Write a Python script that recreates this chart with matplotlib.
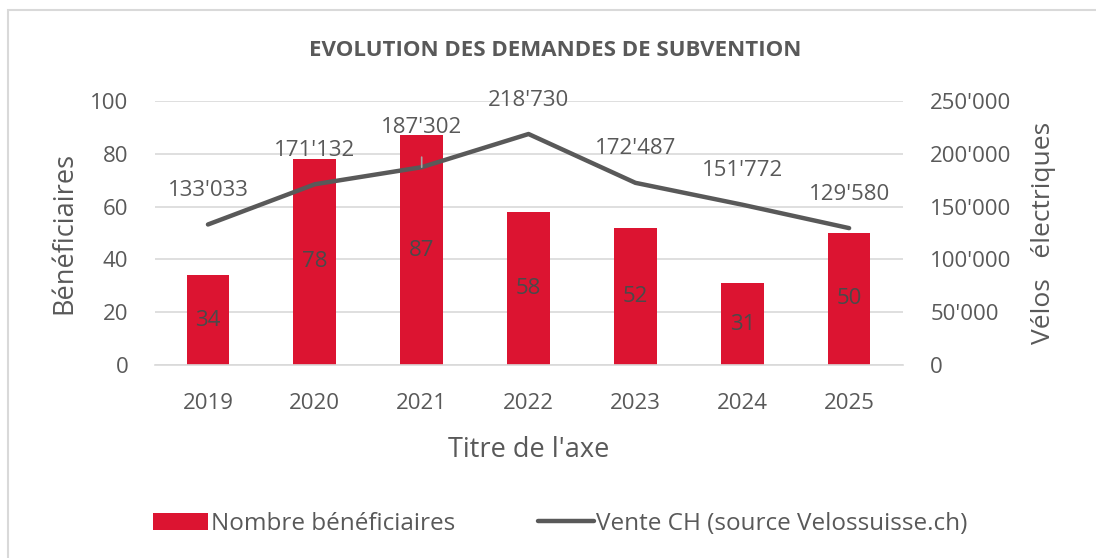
import matplotlib.pyplot as plt
from matplotlib.patches import Patch, Rectangle
from matplotlib.lines import Line2D
import numpy as np

plt.rcParams['font.family'] = ['Open Sans', 'DejaVu Sans']

# data
years = ['2019', '2020', '2021', '2022', '2023', '2024', '2025']
beneficiaires = [34, 78, 87, 58, 52, 31, 50]
ventes = [133033, 171132, 187302, 218730, 172487, 151772, 129580]

RED = '#DC1431'
GREY = '#595959'
GRID = '#D9D9D9'

def fmt(v):
    return f"{v:,}".replace(",", "'")

fig = plt.figure(figsize=(10.96, 5.58), dpi=100)
ax = fig.add_axes([0.141, 0.346, 0.6825, 0.473])
ax2 = ax.twinx()

x = np.arange(len(years))
bars = ax.bar(x, beneficiaires, width=0.4, color=RED, zorder=2)
ax.bar_label(bars, labels=[str(v) for v in beneficiaires], label_type='center',
             fontsize=16, color='#4A4A4A')

ax.set_xlim(-0.5, len(years) - 0.5)
ax.set_ylim(0, 100)
ax.set_yticks(range(0, 101, 20))
ax.grid(axis='y', color=GRID, linewidth=1.2, zorder=0)
ax.set_axisbelow(True)
for s in ax.spines.values():
    s.set_visible(False)
ax.spines['bottom'].set_visible(True)
ax.spines['bottom'].set_color(GRID)
ax.spines['bottom'].set_linewidth(1.2)
ax.set_xticks(x)
ax.set_xticklabels(years)
ax.tick_params(axis='x', length=0, pad=20, labelsize=16, labelcolor=GREY)
ax.tick_params(axis='y', length=0, pad=19, labelsize=16, labelcolor=GREY)
ax.set_ylabel('Bénéficiaires', fontsize=19.5, color=GREY, labelpad=8)
ax.set_xlabel("Titre de l'axe", fontsize=19.5, color=GREY, labelpad=16)

ax2.plot(x, ventes, color=GREY, linewidth=3.2, solid_capstyle='round', zorder=3)
ax2.set_ylim(0, 250000)
ax2.set_yticks(range(0, 250001, 50000))
ax2.set_yticklabels([fmt(v) for v in range(0, 250001, 50000)])
ax2.tick_params(axis='y', length=0, pad=20, labelsize=16, labelcolor=GREY)
for s in ax2.spines.values():
    s.set_visible(False)
ax2.set_ylabel('Vélos   électriques', fontsize=19, color=GREY, labelpad=14)

for i, v in enumerate(ventes):
    if i == 2:
        ax2.annotate(fmt(v), xy=(i, v), xytext=(0, 40), textcoords='offset pixels',
                     ha='center', va='center', fontsize=16, color=GREY,
                     arrowprops=dict(arrowstyle='-', color='#A6A6A6', lw=1.2,
                                     shrinkA=12, shrinkB=0))
    else:
        ax2.annotate(fmt(v), xy=(i, v), xytext=(0, 34), textcoords='offset pixels',
                     ha='center', va='center', fontsize=16, color=GREY)

fig.text(0.507, 1 - 50 / 558, 'EVOLUTION DES DEMANDES DE SUBVENTION',
         ha='center', va='center', fontsize=16, fontweight='bold', color=GREY)

handles = [Patch(facecolor=RED, edgecolor='none'),
           Line2D([0], [0], color=GREY, linewidth=3.2, solid_capstyle='round')]
fig.legend(handles, ['Nombre bénéficiaires', 'Vente CH (source Velossuisse.ch)'],
           loc='center', bbox_to_anchor=(0.511, 1 - 524 / 558), ncol=2, frameon=False,
           fontsize=17.5, labelcolor=GREY, handlelength=2.3, handletextpad=0.1,
           columnspacing=3.4)

fig.patches.append(Rectangle((8 / 1096, -0.05), 1.2, 1 - 10 / 558 + 0.05,
                             transform=fig.transFigure, fill=False,
                             edgecolor='#D9D9D9', linewidth=1.5))

fig.savefig('out.png', dpi=100)
